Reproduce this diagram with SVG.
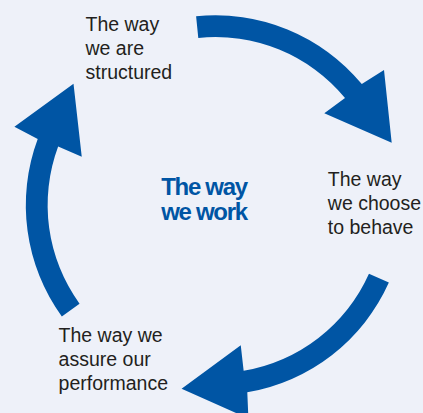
<svg xmlns="http://www.w3.org/2000/svg" width="423" height="413" viewBox="0 0 423 413">
  <style>
    .label { font-family: "Liberation Sans", Arial, sans-serif; font-size: 19.5px; fill: #231f20; }
    .hub { font-family: "Liberation Sans", Arial, sans-serif; font-size: 24px; font-weight: bold; fill: #0055a4; letter-spacing: -1.3px; text-anchor: middle; }
    .arrow { fill: #0055a4; }
  </style>
  <defs>
    <!-- One curved arrow of the cycle; the others are this shape turned by 120 degrees about the hub -->
    <path id="cycle-arrow" class="arrow" d="M196.1,16.3 A189.8,189.8 0 0 1 361.8,84.1 L384,70 L391.7,142.7 L324.3,113.3 L345,98 A168,168 0 0 0 198.3,38 Z"/>
  </defs>
  <rect width="423" height="413" fill="#eef1f9"/>

  <g id="connectors">
    <use href="#cycle-arrow"/>
    <use href="#cycle-arrow" transform="rotate(120 215.6 205.1)"/>
    <use href="#cycle-arrow" transform="rotate(240 215.6 205.1)"/>
  </g>

  <g id="hub">
    <text class="hub" x="204" y="195">The way</text>
    <text class="hub" x="204" y="220">we work</text>
  </g>

  <g id="structured">
    <text class="label" x="85.5" y="31">The way</text>
    <text class="label" x="85.5" y="55">we are</text>
    <text class="label" x="85.5" y="79">structured</text>
  </g>

  <g id="behave">
    <text class="label" x="327.8" y="186">The way</text>
    <text class="label" x="327.8" y="210">we choose</text>
    <text class="label" x="327.8" y="234">to behave</text>
  </g>

  <g id="assure">
    <text class="label" x="58.6" y="342">The way we</text>
    <text class="label" x="58.6" y="366">assure our</text>
    <text class="label" x="58.6" y="390">performance</text>
  </g>
</svg>
